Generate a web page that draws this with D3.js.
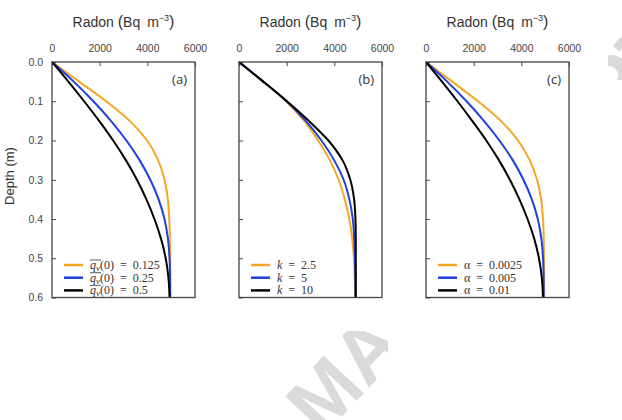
<!DOCTYPE html>
<html>
<head>
<meta charset="utf-8">
<script src="https://cdn.jsdelivr.net/npm/d3@7"></script>
<style>
body { margin: 0; background: #fff; }
</style>
</head>
<body>
<div id="chart"></div>
<script>
const w = 622, h = 420;

// depth grid (m) shared by every curve
const depth = [0, 0.05, 0.1, 0.15, 0.2, 0.25, 0.3, 0.35, 0.4, 0.45, 0.5, 0.55, 0.6];

// panel (a): mean q_v(0)
const a_0125 = [0, 1140, 2270, 3260, 3990, 4450, 4720, 4860, 4920, 4945, 4955, 4958, 4958];
const a_025  = [0, 912, 1737, 2472, 3122, 3674, 4124, 4474, 4719, 4864, 4932, 4953, 4957];
const a_05   = [0, 687, 1347, 1977, 2567, 3099, 3564, 3961, 4298, 4573, 4771, 4886, 4933];

// panel (b): k
const b_25 = [0, 1010, 1970, 2730, 3320, 3810, 4180, 4440, 4630, 4750, 4820, 4855, 4870];
const b_5  = [0, 1020, 2000, 2800, 3460, 3990, 4390, 4630, 4775, 4835, 4870, 4885, 4890];
const b_10 = [0, 1020, 2010, 2930, 3750, 4340, 4670, 4830, 4885, 4900, 4900, 4900, 4900];

// panel (c): alpha
const c_00025 = [0, 1100, 2180, 3140, 3860, 4350, 4660, 4830, 4910, 4940, 4950, 4955, 4955];
const c_0005  = [0, 890, 1700, 2430, 3080, 3640, 4090, 4440, 4690, 4840, 4910, 4935, 4940];
const c_001   = [0, 670, 1320, 1940, 2530, 3060, 3520, 3920, 4260, 4540, 4740, 4860, 4910];

const xTicks = [0, 2000, 4000, 6000];
const yTicks = [0, 0.1, 0.2, 0.3, 0.4, 0.5, 0.6];
const colors = ["#f5a623", "#1f3fe0", "#000000"];

const panels = [
    { left: 52, tag: "(a)", series: [a_0125, a_025, a_05], labels: ["0.125", "0.25", "0.5"], kind: "q" },
    { left: 239, tag: "(b)", series: [b_25, b_5, b_10], labels: ["2.5", "5", "10"], kind: "k" },
    { left: 426, tag: "(c)", series: [c_00025, c_0005, c_001], labels: ["0.0025", "0.005", "0.01"], kind: "a" }
];

const pw = 143, topY = 62, ph = 235.5;

let svg = d3.select("#chart")
    .append("svg")
    .attr("width", w)
    .attr("height", h)
    .style("font-family", "'Liberation Sans', Arial, sans-serif");

// watermark, only visible in the two spots the figure leaves open
const clip = svg.append("defs").append("clipPath").attr("id", "wm");
clip.append("rect").attr("x", 0).attr("y", 331).attr("width", 388).attr("height", 100);
clip.append("rect").attr("x", 608).attr("y", 30).attr("width", 20).attr("height", 50);

svg.append("g")
    .attr("clip-path", "url(#wm)")
    .append("text")
    .attr("transform", "translate(322,438) rotate(-47)")
    .attr("font-size", 80)
    .attr("font-weight", "bold")
    .attr("fill", "#dadada")
    .text("MANUSCRIPT");

const y = d3.scaleLinear().domain([0, 0.6]).range([0, ph]);

panels.forEach((p, i) => {
    const g = svg.append("g").attr("transform", `translate(${p.left},${topY})`);
    const x = d3.scaleLinear().domain([0, 6000]).range([0, pw]);

    // title
    const t = g.append("text")
        .attr("x", pw / 2)
        .attr("y", -35)
        .attr("text-anchor", "middle")
        .attr("font-size", 14)
        .attr("fill", "#333");
    t.append("tspan").text("Radon ");
    t.append("tspan").attr("font-size", 16).text("(");
    t.append("tspan").text("Bq\u2002m");
    t.append("tspan").attr("font-size", 9).attr("dy", -6).text("\u22123");
    t.append("tspan").attr("font-size", 16).attr("dy", 6).text(")");

    // top axis
    const xa = g.append("g")
        .call(d3.axisTop(x).tickValues(xTicks).tickFormat(d3.format("d"))
            .tickSizeInner(-4).tickSizeOuter(0).tickPadding(10));
    xa.select(".domain").remove();
    xa.selectAll("line").attr("stroke", "#444");
    xa.selectAll("text").attr("font-size", 10.5).attr("fill", "#444")
        .style("font-family", "'Liberation Sans', Arial, sans-serif");

    // left axis
    const ya = g.append("g")
        .call(d3.axisLeft(y).tickValues(yTicks).tickSizeInner(-4).tickSizeOuter(0).tickPadding(9)
            .tickFormat(i === 0 ? d3.format(".1f") : () => ""));
    ya.select(".domain").remove();
    ya.selectAll("line").attr("stroke", "#444");
    ya.selectAll("text").attr("font-size", 10.5).attr("fill", "#444")
        .style("font-family", "'Liberation Sans', Arial, sans-serif");

    // curves
    const line = d3.line()
        .x(d => x(d[1]))
        .y(d => y(d[0]))
        .curve(d3.curveMonotoneY);

    p.series.forEach((vals, j) => {
        g.append("path")
            .datum(depth.map((d, k) => [d, vals[k]]))
            .attr("d", line)
            .attr("fill", "none")
            .attr("stroke", colors[j])
            .attr("stroke-width", 2);
    });

    // frame
    g.append("rect")
        .attr("width", pw)
        .attr("height", ph)
        .attr("fill", "none")
        .attr("stroke", "#444")
        .attr("stroke-width", 1.3);

    // panel tag
    g.append("text")
        .attr("x", pw - 8)
        .attr("y", 22)
        .attr("text-anchor", "end")
        .attr("font-size", 13)
        .attr("fill", "#333")
        .style("font-family", "'Open Sans', sans-serif")
        .text(p.tag);

    // legend
    p.labels.forEach((lab, j) => {
        const ly = 203 + j * 12.7;
        g.append("line")
            .attr("x1", 12).attr("x2", 31)
            .attr("y1", ly).attr("y2", ly)
            .attr("stroke", colors[j])
            .attr("stroke-width", 2.5);
        const tx = g.append("text")
            .attr("x", 38)
            .attr("y", ly + 4)
            .attr("font-size", 12)
            .attr("fill", "#333")
            .style("font-family", "'Liberation Serif', serif");
        const eq = "\u2002=\u2002" + lab;
        if (p.kind === "q") {
            tx.append("tspan").attr("font-style", "italic").text("q");
            tx.append("tspan").attr("font-style", "italic").attr("font-size", 9).attr("dy", 2).text("v");
            tx.append("tspan").attr("dy", -2).text("(0)" + eq);
            g.append("line")
                .attr("x1", 38).attr("x2", 49)
                .attr("y1", ly - 5).attr("y2", ly - 5)
                .attr("stroke", "#333")
                .attr("stroke-width", 0.8);
        } else if (p.kind === "k") {
            tx.append("tspan").attr("font-style", "italic").text("k");
            tx.append("tspan").text(eq);
        } else {
            tx.append("tspan").text("\u03b1" + eq);
        }
    });
});

// y axis label
svg.append("text")
    .attr("transform", "translate(14,176) rotate(-90)")
    .attr("text-anchor", "middle")
    .attr("font-size", 13)
    .attr("fill", "#333")
    .text("Depth (m)");
</script>
</body>
</html>
